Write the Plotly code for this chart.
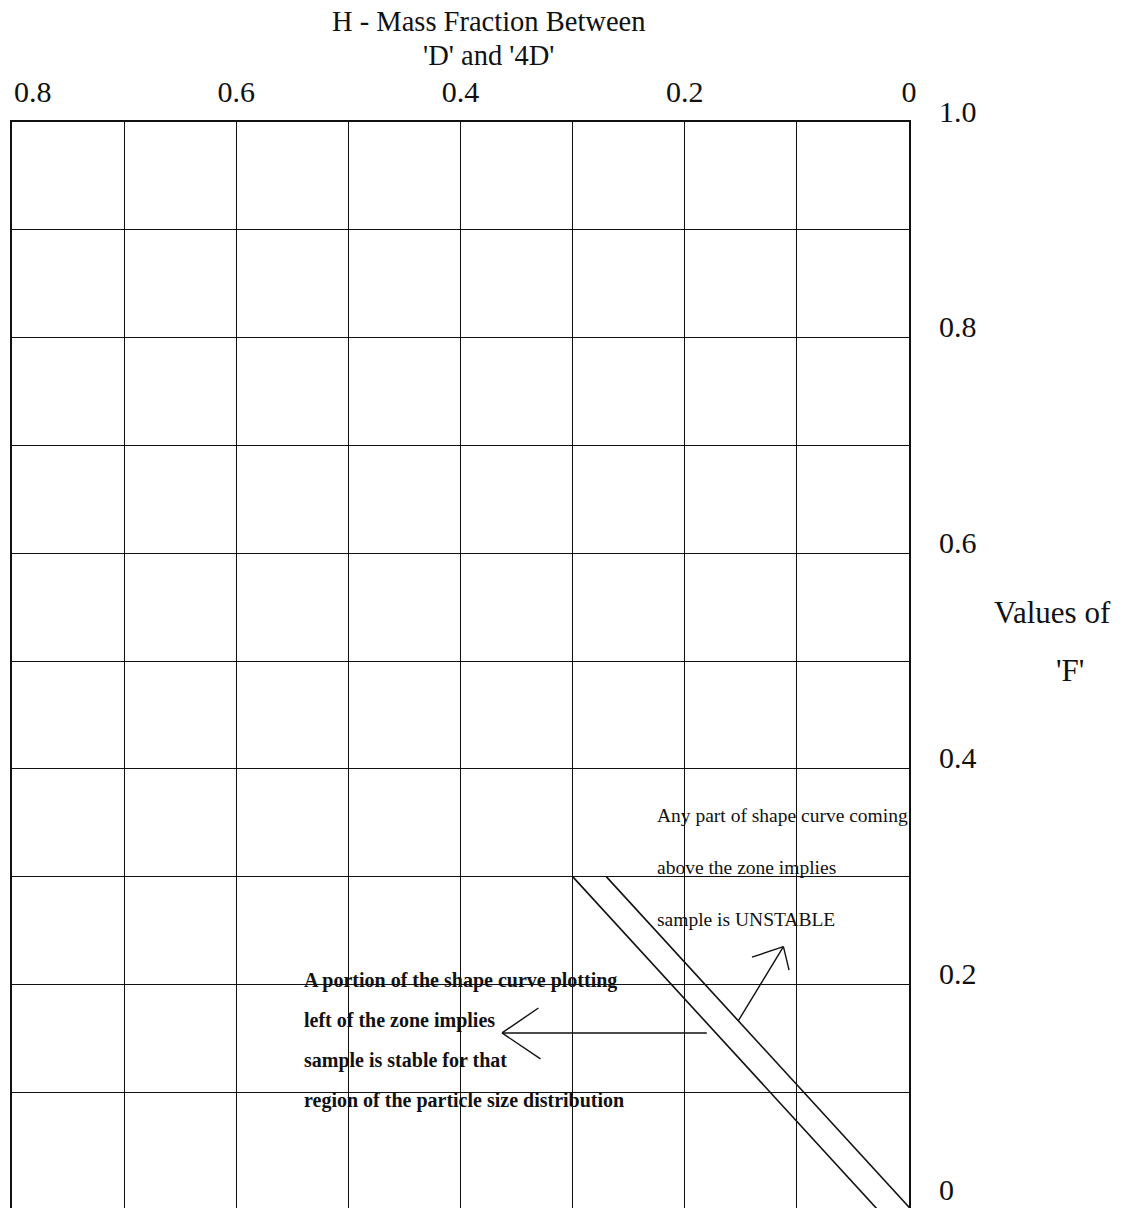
import plotly.graph_objects as go

# ---- axis ticks and grid -------------------------------------------------
H_TICKS = [0.6, 0.4, 0.2, 0.0]
H_TICK_TEXT = ["0.6", "0.4", "0.2", "0"]
H_EDGE_TICK = 0.8
H_EDGE_TEXT = "0.8"
F_TICKS = [0.0, 0.2, 0.4, 0.6, 0.8, 1.0]
F_TICK_TEXT = ["0", "0.2", "0.4", "0.6", "0.8", "1.0"]
H_GRID = [0.8, 0.7, 0.6, 0.5, 0.4, 0.3, 0.2, 0.1, 0.0]
F_GRID = [0.1, 0.2, 0.3, 0.4, 0.5, 0.6, 0.7, 0.8, 0.9]

# ---- boundaries of the stability zone (H, F) -----------------------------
ZONE_LEFT_H = [0.300, 0.027]
ZONE_LEFT_F = [0.300, -0.010]
ZONE_RIGHT_H = [0.270, -0.003]
ZONE_RIGHT_F = [0.300, -0.010]

# ---- explanatory arrows (tail -> head, in H, F) --------------------------
STABLE_TAIL = [0.179, 0.155]
STABLE_HEAD = [0.363, 0.155]
UNSTABLE_TAIL = [0.153, 0.165]
UNSTABLE_HEAD = [0.112, 0.235]

# ---- notes ---------------------------------------------------------------
UNSTABLE_NOTE = [
    "Any part of shape curve coming",
    "above the zone implies",
    "sample is UNSTABLE",
]
STABLE_NOTE = [
    "A portion of the shape curve plotting",
    "left of the zone implies",
    "sample is stable for that",
    "region of the particle size distribution",
]
X_TITLE = ["H - Mass Fraction Between", "'D' and '4D'"]
Y_TITLE = ["Values of", "'F'"]

SERIF = "Liberation Serif, Times New Roman, serif"
INK = "#111111"

fig = go.Figure()

for hs, fs in ((ZONE_LEFT_H, ZONE_LEFT_F), (ZONE_RIGHT_H, ZONE_RIGHT_F)):
    fig.add_trace(go.Scatter(
        x=hs, y=fs, mode="lines",
        line=dict(color=INK, width=1.6),
        hoverinfo="skip", showlegend=False,
    ))

annotations = []

# arrow shafts
for tail, head in ((STABLE_TAIL, STABLE_HEAD), (UNSTABLE_TAIL, UNSTABLE_HEAD)):
    annotations.append(dict(
        x=head[0], y=head[1], ax=tail[0], ay=tail[1],
        xref="x", yref="y", axref="x", ayref="y",
        text="", showarrow=True, arrowhead=0,
        arrowwidth=1.4, arrowcolor=INK, standoff=0, startstandoff=0,
    ))

# open arrow heads, drawn as two short barbs (pixel offsets from the tip)
barbs = [
    (STABLE_HEAD, (38, -26)), (STABLE_HEAD, (40, 27)),
    (UNSTABLE_HEAD, (-33, 11)), (UNSTABLE_HEAD, (6, 25)),
]
for tip, (dx, dy) in barbs:
    annotations.append(dict(
        x=tip[0], y=tip[1], xref="x", yref="y", ax=dx, ay=dy,
        text="", showarrow=True, arrowhead=0,
        arrowwidth=1.4, arrowcolor=INK, standoff=0, startstandoff=0,
    ))

# notes
for i, line in enumerate(UNSTABLE_NOTE):
    annotations.append(dict(
        x=0.2266, y=0.357 - i * 0.0485, xref="x", yref="y",
        xanchor="left", yanchor="middle", showarrow=False, text=line,
        font=dict(family=SERIF, size=19.5, color=INK),
    ))
for i, line in enumerate(STABLE_NOTE):
    annotations.append(dict(
        x=0.541, y=0.204 - i * 0.0373, xref="x", yref="y",
        xanchor="left", yanchor="middle", showarrow=False,
        text="<b>" + line + "</b>",
        font=dict(family=SERIF, size=20, color=INK),
    ))

# axis titles (top axis title in two stacked lines, y title at the right)
for line, ypos in zip(X_TITLE, (1.0930, 1.0612)):
    annotations.append(dict(
        x=0.5307, y=ypos, xref="paper", yref="paper", showarrow=False,
        text=line, xanchor="center", yanchor="middle", borderpad=0,
        font=dict(family=SERIF, size=28.5, color=INK),
    ))
for line, xpos, ypos in zip(Y_TITLE, (1.1605, 1.1795), (0.5479, 0.4945)):
    annotations.append(dict(
        x=xpos, y=ypos, xref="paper", yref="paper", showarrow=False,
        text=line, xanchor="center", yanchor="middle",
        font=dict(family=SERIF, size=31, color=INK),
    ))

# label at the left edge of the top axis, kept inside the page
annotations.append(dict(
    x=H_EDGE_TICK, y=1.0285, xref="x", yref="paper", showarrow=False,
    text=H_EDGE_TEXT, xanchor="left", yanchor="middle",
    font=dict(family=SERIF, size=30, color=INK),
))

fig.update_layout(
    width=1134, height=1208,
    margin=dict(l=12, r=225, t=122, b=0),
    paper_bgcolor="white", plot_bgcolor="white",
    showlegend=False,
    annotations=annotations,
    xaxis=dict(
        range=[0.8, 0.0], side="top",
        tickmode="array", tickvals=H_TICKS, ticktext=H_TICK_TEXT,
        ticks="", ticklabelstandoff=6,
        tickfont=dict(family=SERIF, size=30, color=INK),
        showgrid=False, zeroline=False,
        showline=True, linecolor=INK, linewidth=2,
        minor=dict(tickmode="array", tickvals=H_GRID, showgrid=True,
                   gridcolor=INK, gridwidth=1.3, ticks=""),
    ),
    yaxis=dict(
        range=[-0.0074, 1.0], side="right",
        tickmode="array", tickvals=F_TICKS, ticktext=F_TICK_TEXT,
        ticks="", ticklabelstandoff=22, ticklabelshift=-11,
        ticklabeloverflow="allow",
        tickfont=dict(family=SERIF, size=30, color=INK),
        showgrid=False, zeroline=False,
        showline=True, mirror=True, linecolor=INK, linewidth=2,
        minor=dict(tickmode="array", tickvals=F_GRID, showgrid=True,
                   gridcolor=INK, gridwidth=1.3, ticks=""),
    ),
)

fig.write_html("out.html")
